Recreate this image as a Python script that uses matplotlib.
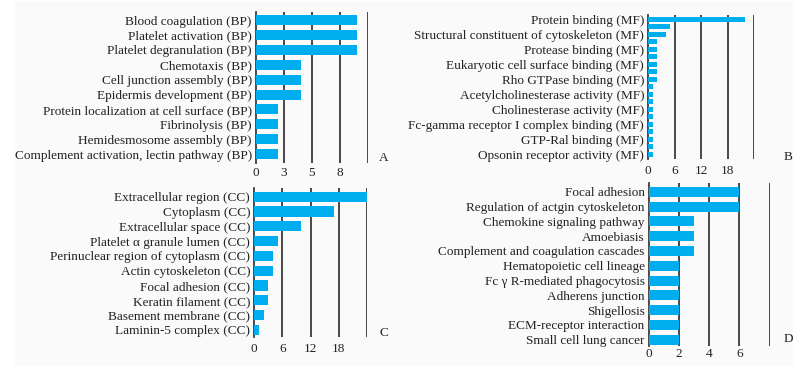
import matplotlib
matplotlib.use("Agg")
import matplotlib.pyplot as plt
from matplotlib.patches import Rectangle

plt.rcParams['font.family'] = ['Liberation Serif', 'DejaVu Serif']

# panel A - biological process
bp_terms = ["Blood coagulation (BP)", "Platelet activation (BP)", "Platelet degranulation (BP)",
            "Chemotaxis (BP)", "Cell junction assembly (BP)", "Epidermis development (BP)",
            "Protein localization at cell surface (BP)", "Fibrinolysis (BP)",
            "Hemidesmosome assembly (BP)", "Complement activation, lectin pathway (BP)"]
bp_counts = [9, 9, 9, 4, 4, 4, 2, 2, 2, 2]
bp_ticks = [0, 2.5, 5, 7.5, 10]
bp_ticklabels = ["0", "3", "5", "8", ""]

# panel B - molecular function (19 bars, every other one labelled)
mf_terms = ["Protein binding (MF)", "Structural constituent of cytoskeleton (MF)",
            "Protease binding (MF)", "Eukaryotic cell surface binding (MF)",
            "Rho GTPase binding (MF)", "Acetylcholinesterase activity (MF)",
            "Cholinesterase activity (MF)", "Fc-gamma receptor I complex binding (MF)",
            "GTP-Ral binding (MF)", "Opsonin receptor activity (MF)"]
mf_counts = [22, 5, 4, 2, 2, 2, 2, 2, 2, 1, 1, 1, 1, 1, 1, 1, 1, 1, 1]
mf_ticks = [0, 6, 12, 18, 24]
mf_ticklabels = ["0", "6", "12", "18", ""]

# panel C - cellular component
cc_terms = ["Extracellular region (CC)", "Cytoplasm (CC)", "Extracellular space (CC)",
            "Platelet \u03b1 granule lumen (CC)", "Perinuclear region of cytoplasm (CC)",
            "Actin cytoskeleton (CC)", "Focal adhesion (CC)", "Keratin filament (CC)",
            "Basement membrane (CC)", "Laminin-5 complex (CC)"]
cc_counts = [24, 17, 10, 5, 4, 4, 3, 3, 2, 1]
cc_ticks = [0, 6, 12, 18, 24]
cc_ticklabels = ["0", "6", "12", "18", ""]

# panel D - KEGG pathways
kegg_terms = ["Focal adhesion", "Regulation of actgin cytoskeleton", "Chemokine signaling pathway",
              "Amoebiasis", "Complement and coagulation cascades", "Hematopoietic cell lineage",
              "Fc \u03b3 R-mediated phagocytosis", "Adherens junction", "Shigellosis",
              "ECM-receptor interaction", "Small cell lung cancer"]
kegg_counts = [6, 6, 3, 3, 3, 2, 2, 2, 2, 2, 2]
kegg_ticks = [0, 2, 4, 6, 8]
kegg_ticklabels = ["0", "2", "4", "6", ""]

W, H = 810, 367
fig = plt.figure(figsize=(W / 100, H / 100), dpi=100)
fig.patch.set_facecolor('white')
fig.patches.append(Rectangle((15 / W, 1 / H), (793 - 15) / W, (366 - 1) / H,
                             transform=fig.transFigure, facecolor='#fafafa',
                             edgecolor='none', zorder=-10))

BAR = '#00aeef'
GRID = '#333333'
FS = 9.5


def px_axes(x0, x1, y0, y1):
    return fig.add_axes([x0 / W, 1 - y1 / H, (x1 - x0) / W, (y1 - y0) / H])


def panel(ax, counts, labels, label_pos, ticks, ticklabels, ylim, letter, letter_xy, tick_y):
    n = len(counts)
    ax.barh(range(n), counts, height=0.68, color=BAR, zorder=3)
    ax.set_ylim(*ylim)
    ax.set_xlim(ticks[0], ticks[-1])
    ax.set_yticks(label_pos)
    ax.set_yticklabels(labels, fontsize=FS, color='#222222')
    ax.set_xticks(ticks)
    ax.set_xticklabels(ticklabels, fontsize=FS, color='#222222')
    ax.tick_params(length=0, axis='y', pad=3)
    ax.tick_params(length=0, axis='x', pad=tick_y)
    for t in ticks[1:]:
        ax.axvline(t, color=GRID, lw=1.25, zorder=1)
    for s in ['top', 'right', 'bottom']:
        ax.spines[s].set_visible(False)
    ax.spines['left'].set_color(GRID)
    ax.spines['left'].set_linewidth(1.25)
    ax.patch.set_alpha(0)
    fig.text(letter_xy[0] / W, 1 - letter_xy[1] / H, letter, fontsize=FS,
             ha='center', va='center', color='#222222')


axA = px_axes(256, 367.7, 11.7, 162.7)
panel(axA, bp_counts, bp_terms, range(len(bp_terms)), bp_ticks, bp_ticklabels,
      (9.58, -0.57), "A", (384, 158), 3)

axB = px_axes(648.3, 754.3, 15, 159)
panel(axB, mf_counts, mf_terms, range(0, len(mf_counts), 2), mf_ticks, mf_ticklabels,
      (18.65, -0.58), "B", (788, 157), 4)

axC = px_axes(254.3, 366.7, 188.3, 337.3)
panel(axC, cc_counts, cc_terms, range(len(cc_terms)), cc_ticks, cc_ticklabels,
      (9.5, -0.57), "C", (384, 333), 4)

axD = px_axes(648.7, 769.7, 183.3, 345.7)
panel(axD, kegg_counts, kegg_terms, range(len(kegg_terms)), kegg_ticks, kegg_ticklabels,
      (10.4, -0.57), "D", (788, 339), 2)

fig.savefig("out.png", dpi=100)
